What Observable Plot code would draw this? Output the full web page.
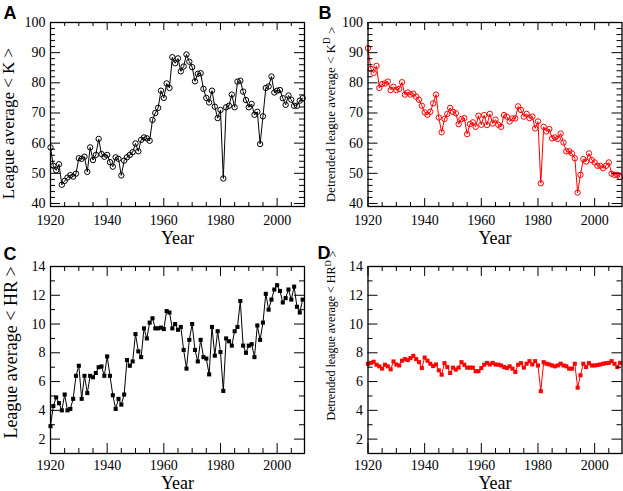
<!DOCTYPE html>
<html><head><meta charset="utf-8">
<script src="https://cdn.jsdelivr.net/npm/d3@7"></script>
<script src="https://cdn.jsdelivr.net/npm/@observablehq/plot@0.6"></script>
<style>
html,body{margin:0;padding:0;background:#fff;}
#wrap{position:relative;width:623px;height:491px;overflow:hidden;background:#fff;}
#wrap>.p{position:absolute;}
</style></head><body><div id="wrap"></div>
<script>
// ---- data ----
const years = d3.range(1920, 2010);
const leagueK = [58.6,52.5,51.0,53.0,46.2,47.5,48.6,49.4,48.9,49.9,
55.0,54.8,55.5,50.5,58.6,54.4,56.1,61.4,56.4,55.5,
56.1,53.7,52.2,55.3,54.8,49.3,54.2,55.3,56.1,57.0,
59.9,57.3,61.1,61.9,61.6,60.8,67.7,70.0,71.7,77.4,
75.0,79.8,78.3,88.5,86.5,88.1,83.8,85.4,89.4,87.0,
85.2,80.5,83.0,83.2,78.0,75.0,73.5,77.4,72.1,68.3,
71.0,48.3,71.9,72.4,76.1,71.9,80.4,80.7,77.1,74.3,
71.9,73.0,69.4,70.4,59.7,68.9,78.3,78.8,82.1,76.8,
77.4,77.6,74.9,72.7,75.8,74.4,72.4,72.4,74.1,74.9];
const detrendedK = [91.5,84.6,83.3,85.6,78.3,79.6,79.8,80.4,77.6,78.7,
77.6,78.0,80.2,76.1,76.8,76.1,76.4,75.4,74.4,72.4,
70.2,69.4,70.4,73.2,76.1,68.5,63.6,68.0,69.7,71.7,
70.4,69.9,66.3,68.0,68.3,63.0,66.3,66.9,65.4,69.1,
66.1,69.3,66.0,69.7,66.5,67.8,66.1,65.4,69.3,68.8,
67.2,68.2,68.2,72.2,71.0,68.8,69.7,68.3,68.8,64.9,
67.2,46.7,65.4,63.9,64.7,61.6,61.9,61.4,63.2,60.2,
57.3,57.3,56.6,55.0,43.6,49.5,54.7,53.9,56.6,54.4,
53.6,52.5,52.5,51.7,52.5,53.6,49.9,49.5,49.5,48.8];
const leagueHR = [2.9,4.3,4.9,4.5,4.0,5.1,4.0,4.1,4.8,6.4,
7.1,4.8,6.4,5.2,6.4,6.3,6.6,7.0,7.05,6.4,
7.75,6.4,5.05,4.1,4.8,4.4,5.1,7.5,7.1,7.4,
9.3,8.1,7.7,9.7,9.0,10.1,10.4,9.7,9.7,9.75,
9.65,10.9,10.8,9.7,10.0,9.6,9.8,8.2,6.9,8.9,
10.0,8.2,7.4,8.9,7.7,7.6,6.5,9.8,7.8,9.5,
8.05,5.35,9.0,8.8,8.5,9.5,9.8,11.6,8.5,8.0,
8.5,8.6,7.7,9.9,8.9,10.1,12.1,11.0,11.7,12.4,
12.7,12.3,11.5,11.8,12.4,11.7,12.6,11.2,10.8,11.7];
const detrendedHR = [7.24,7.30,7.38,7.17,7.06,6.90,7.17,7.06,6.85,7.40,
7.19,7.12,7.45,7.56,7.49,7.63,7.79,7.56,7.35,6.94,
7.67,7.45,7.24,7.08,7.19,6.78,6.48,7.28,7.01,6.60,
6.97,6.83,6.97,7.35,7.17,6.97,6.97,6.97,6.72,6.72,
6.94,7.17,7.30,7.19,7.30,7.19,7.17,7.12,7.01,6.94,
7.06,6.90,6.67,7.17,7.28,6.97,7.24,7.42,7.19,7.42,
7.12,5.33,7.35,7.24,7.19,7.12,7.06,7.12,7.24,7.12,
7.06,6.90,6.90,7.24,5.58,6.44,7.24,7.01,7.28,7.12,
7.12,7.15,7.19,7.24,7.28,7.30,7.42,7.24,7.01,7.30];

// tick values / labels
const xMajor = [1920, 1940, 1960, 1980, 2000];
const xMinor = [1925, 1930, 1935, 1945, 1950, 1955, 1965, 1970, 1975, 1985, 1990, 1995, 2005];
const kMajor = [40, 50, 60, 70, 80, 90, 100];
const kMinor = [42,44,46,48,52,54,56,58,62,64,66,68,72,74,76,78,82,84,86,88,92,94,96,98];
const hrMajor = [2, 4, 6, 8, 10, 12, 14];
const hrMinor = [3, 5, 7, 9, 11, 13];

const labels = {
  A: "League average < K >",
  B: "Detrended league average < Kᴰ >",
  C: "League average < HR >",
  D: "Detrended league average < HRᴰ >"
};
const xTitle = "Year";

// ---- drawing ----
const SERIF = "'Liberation Serif','Times New Roman',serif";
const SANS = "'Liberation Sans',Arial,sans-serif";

function supify(svg) {
  svg.querySelectorAll("text").forEach(t => {
    if (t.textContent.includes("ᴰ")) {
      const [a, b] = t.textContent.split("ᴰ");
      t.textContent = "";
      t.append(a);
      const s = document.createElementNS("http://www.w3.org/2000/svg", "tspan");
      s.setAttribute("font-size", "72%");
      s.setAttribute("dy", "-0.45em");
      s.textContent = "D";
      t.append(s);
      const r = document.createElementNS("http://www.w3.org/2000/svg", "tspan");
      r.setAttribute("dy", "0.45em");
      r.textContent = b;
      t.append(r);
    }
  });
}

function panel(cfg) {
  const {values, letter, yDomain, yMaj, yMin, box, m, color, kind, xLen, yLen, xPad, yearDy, labelFont, labelDx, labelDy, letterDx, letterDy} = cfg;
  const fw = box.width - m.l - m.r;
  const fh = box.height - m.t - m.b;
  const data = years.map((yr, i) => ({year: yr, v: values[i]}));
  const marks = [
    Plot.lineY(data, {x: "year", y: "v", stroke: color, strokeWidth: 1}),
    kind === "circle"
      ? Plot.dot(data, {x: "year", y: "v", r: 2.7, stroke: color, fill: "none", strokeWidth: 1})
      : Plot.dot(data, {x: "year", y: "v", symbol: "square", r: 2.3, fill: color, stroke: "none"}),
    // inward ticks, all four sides
    Plot.ruleX(xMajor, {stroke: "black", strokeWidth: 1, insetTop: fh - xLen[0]}),
    Plot.ruleX(xMajor, {stroke: "black", strokeWidth: 1, insetBottom: fh - xLen[0]}),
    Plot.ruleX(xMinor, {stroke: "black", strokeWidth: 1, insetTop: fh - xLen[1]}),
    Plot.ruleX(xMinor, {stroke: "black", strokeWidth: 1, insetBottom: fh - xLen[1]}),
    Plot.ruleY(yMaj, {stroke: "black", strokeWidth: 1, insetRight: fw - yLen[0]}),
    Plot.ruleY(yMaj, {stroke: "black", strokeWidth: 1, insetLeft: fw - yLen[0]}),
    Plot.ruleY(yMin, {stroke: "black", strokeWidth: 1, insetRight: fw - yLen[1]}),
    Plot.ruleY(yMin, {stroke: "black", strokeWidth: 1, insetLeft: fw - yLen[1]}),
    Plot.frame({stroke: "black", strokeWidth: 1.3}),
    Plot.axisX(xMajor, {tickSize: 0, tickPadding: xPad, tickFormat: d => String(d), fontSize: 14, fontFamily: SERIF, fill: "black", label: null}),
    Plot.axisY(yMaj, {tickSize: 0, tickPadding: 5, tickFormat: d => String(d), fontSize: 14, fontFamily: SERIF, fill: "black", label: null}),
    Plot.text([xTitle], {text: d => d, frameAnchor: "bottom", lineAnchor: "bottom", dy: yearDy, fontSize: 18, fontFamily: SERIF, fill: "black"}),
    Plot.text([labels[letter]], {text: d => d, frameAnchor: "left", rotate: -90, textAnchor: "middle", lineAnchor: "bottom", dx: labelDx, dy: labelDy, fontSize: labelFont, fontFamily: SERIF, fill: "black"}),
    Plot.text([letter], {text: d => d, frameAnchor: "top-left", textAnchor: "start", lineAnchor: "bottom", dx: letterDx, dy: letterDy, fontSize: 18, fontWeight: "bold", fontFamily: SANS, fill: "black"})
  ];
  const svg = Plot.plot({
    width: box.width, height: box.height,
    marginTop: m.t, marginRight: m.r, marginBottom: m.b, marginLeft: m.l,
    x: {domain: [1920, 2009.66], label: null},
    y: {domain: yDomain, label: null},
    style: {fontFamily: SERIF, fontSize: "14px", color: "black", background: "transparent", overflow: "visible"},
    marks
  });
  supify(svg);
  const holder = document.createElement("div");
  holder.className = "p";
  holder.style.left = box.left + "px";
  holder.style.top = box.top + "px";
  holder.appendChild(svg);
  document.getElementById("wrap").appendChild(holder);
}

panel({values: leagueK, letter: "A", yDomain: [39, 100], yMaj: kMajor, yMin: kMinor,
  box: {left: 0, top: 0, width: 312, height: 245}, m: {t: 22, r: 8, b: 39, l: 50},
  color: "black", kind: "circle", xLen: [8, 4], yLen: [10, 5], xPad: 9, yearDy: 37,
  labelFont: 17, labelDx: -36.7, labelDy: 9, letterDx: -47, letterDy: -4});
panel({values: detrendedK, letter: "B", yDomain: [39, 100], yMaj: kMajor, yMin: kMinor,
  box: {left: 312, top: 0, width: 311, height: 245}, m: {t: 22, r: 1.5, b: 39, l: 55.5},
  color: "#ff0000", kind: "circle", xLen: [8, 4], yLen: [10, 5], xPad: 9, yearDy: 37,
  labelFont: 13, labelDx: -33.5, labelDy: 0, letterDx: -49.5, letterDy: -4});
panel({values: leagueHR, letter: "C", yDomain: [1, 14], yMaj: hrMajor, yMin: hrMinor,
  box: {left: 0, top: 245, width: 312, height: 246}, m: {t: 21, r: 8, b: 38, l: 50},
  color: "black", kind: "square", xLen: [10, 5], yLen: [10, 5], xPad: 6.5, yearDy: 35,
  labelFont: 18, labelDx: -34, labelDy: -7.5, letterDx: -47, letterDy: -7});
panel({values: detrendedHR, letter: "D", yDomain: [1, 14], yMaj: hrMajor, yMin: hrMinor,
  box: {left: 312, top: 245, width: 311, height: 246}, m: {t: 21, r: 1.5, b: 38, l: 55.5},
  color: "#ff0000", kind: "square", xLen: [10, 5], yLen: [10, 5], xPad: 6.5, yearDy: 35,
  labelFont: 12, labelDx: -33, labelDy: -24.5, letterDx: -50.5, letterDy: -8});
</script>
</body></html>
